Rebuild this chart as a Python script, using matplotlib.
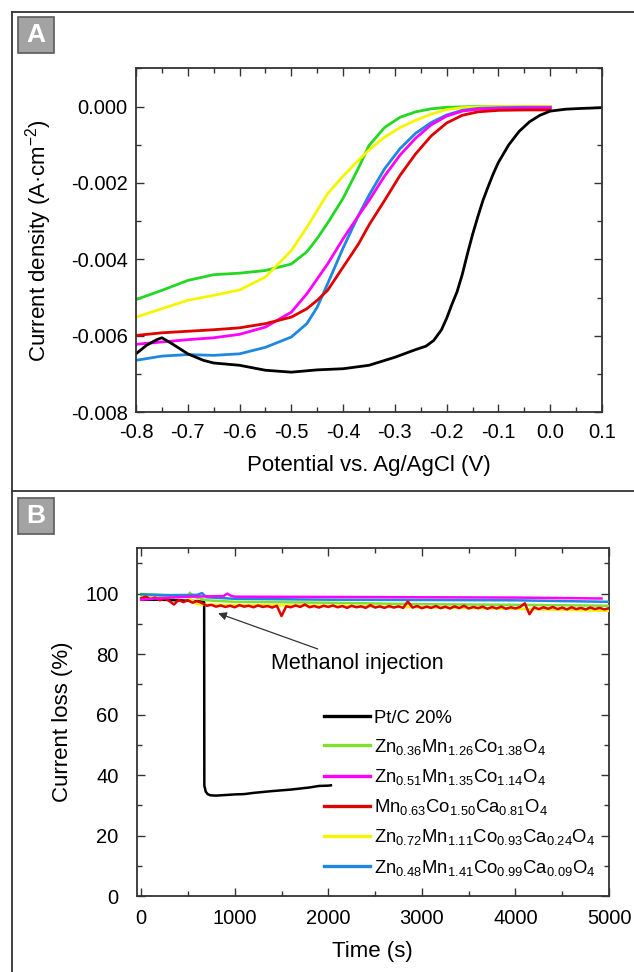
import numpy as np
import matplotlib
matplotlib.use('Agg')
import matplotlib.pyplot as plt
from matplotlib.lines import Line2D
from matplotlib.patches import Rectangle

plt.rcParams['font.family'] = ['Liberation Sans', 'DejaVu Sans']
plt.rcParams['mathtext.fontset'] = 'custom'
plt.rcParams['mathtext.rm'] = 'Liberation Sans'
plt.rcParams['mathtext.it'] = 'Liberation Sans:italic'
plt.rcParams['axes.unicode_minus'] = False

# ---- panel A: LSV curves (values in 1e-3 A/cm2)
pot = [-0.80, -0.75, -0.70, -0.65, -0.60, -0.55, -0.50, -0.47, -0.45, -0.43, -0.40, -0.37,
       -0.35, -0.32, -0.29, -0.26, -0.23, -0.20, -0.17, -0.14, -0.10, -0.05, 0.00]
green_a = [-5.05, -4.81, -4.55, -4.40, -4.36, -4.29, -4.12, -3.80, -3.45, -3.05, -2.40, -1.60,
           -1.02, -0.55, -0.28, -0.14, -0.06, -0.02, -0.01, 0.0, 0.0, 0.0, 0.0]
yellow_a = [-5.51, -5.29, -5.07, -4.94, -4.80, -4.46, -3.77, -3.16, -2.72, -2.28, -1.82, -1.40,
            -1.14, -0.80, -0.55, -0.36, -0.20, -0.08, -0.03, -0.01, 0.0, 0.0, 0.0]
blue_a = [-6.64, -6.53, -6.49, -6.51, -6.47, -6.30, -6.03, -5.68, -5.25, -4.64, -3.70, -2.84,
          -2.32, -1.63, -1.10, -0.70, -0.42, -0.22, -0.10, -0.05, -0.03, -0.02, -0.02]
magenta_a = [-6.22, -6.16, -6.10, -6.05, -5.96, -5.77, -5.38, -4.90, -4.51, -4.12, -3.46, -2.85,
             -2.46, -1.82, -1.27, -0.83, -0.48, -0.25, -0.12, -0.07, -0.05, -0.04, -0.03]
red_a = [-5.99, -5.92, -5.88, -5.84, -5.79, -5.68, -5.51, -5.29, -5.07, -4.81, -4.20, -3.59,
         -3.10, -2.46, -1.80, -1.24, -0.77, -0.43, -0.23, -0.14, -0.10, -0.09, -0.09]

pot_pt = [-0.80, -0.78, -0.76, -0.75, -0.73, -0.70, -0.67, -0.65, -0.60, -0.55, -0.50, -0.45,
          -0.40, -0.35, -0.30, -0.26, -0.24, -0.225, -0.21, -0.20, -0.19, -0.18, -0.17, -0.16,
          -0.15, -0.14, -0.13, -0.12, -0.11, -0.10, -0.08, -0.06, -0.04, -0.02, 0.00, 0.03,
          0.06, 0.10]
black_a = [-6.47, -6.25, -6.10, -6.05, -6.21, -6.47, -6.64, -6.71, -6.77, -6.90, -6.95, -6.89,
           -6.86, -6.77, -6.56, -6.36, -6.27, -6.12, -5.84, -5.54, -5.18, -4.85, -4.40, -3.86,
           -3.35, -2.89, -2.46, -2.10, -1.76, -1.46, -1.00, -0.65, -0.40, -0.23, -0.12, -0.07,
           -0.05, -0.03]

# ---- panel B: chronoamperometry, current retention (%)
t_pt = [0, 200, 400, 600, 673, 675, 690, 710, 740, 800, 900, 1000, 1100, 1200, 1400, 1600,
        1800, 1900, 2000, 2028]
black_b = [98.0, 98.0, 97.8, 97.5, 97.2, 36.5, 34.5, 33.7, 33.3, 33.2, 33.4, 33.6, 33.7, 34.1,
           34.7, 35.2, 35.9, 36.4, 36.5, 36.6]

t_green = [0, 300, 500, 520, 560, 700, 1000, 2000, 3000, 4000, 5000]
green_b = [99.5, 99.2, 99.0, 100.3, 99.0, 97.8, 97.3, 97.0, 96.5, 96.3, 96.0]
t_mag = [0, 200, 500, 880, 920, 960, 1000, 2000, 3000, 4000, 4920]
magenta_b = [98.0, 98.5, 99.0, 99.2, 100.0, 99.3, 99.0, 98.9, 98.8, 98.7, 98.4]
t_yel = [0, 200, 500, 600, 800, 2000, 3000, 4000, 5000]
yellow_b = [100.0, 99.5, 98.8, 96.5, 96.3, 96.0, 95.5, 95.0, 94.3]
t_blue = [0, 300, 600, 650, 700, 1000, 2000, 3000, 4000, 5000]
blue_b = [99.8, 99.5, 99.6, 100.2, 98.8, 98.3, 98.0, 97.9, 97.8, 97.3]
t_red = np.arange(0, 5001, 50)
red_b = [98.5, 99.0, 98.2, 98.7, 97.8, 98.4, 97.6, 96.4, 97.9, 97.2, 97.8, 97.0, 97.6, 96.9,
         96.0, 96.3, 95.7, 96.1, 95.6, 96.0, 95.5, 96.2, 95.7, 96.0, 95.5, 96.1, 95.6, 95.9,
         95.4, 96.0, 92.6, 95.8, 95.5, 96.1, 95.6, 96.4, 95.5, 95.9, 95.4, 96.0, 95.6, 96.1,
         95.5, 95.9, 95.3, 96.0, 95.5, 95.8, 95.3, 96.2, 95.4, 95.8, 95.3, 95.9, 95.4, 95.8,
         95.3, 97.4, 95.4, 95.9, 95.2, 95.7, 95.3, 95.9, 95.2, 95.7, 95.1, 95.8, 95.2, 96.0,
         95.1, 95.6, 95.2, 95.7, 95.0, 95.6, 95.1, 95.7, 95.0, 95.5, 95.1, 95.6, 96.8, 93.2,
         95.5, 94.9, 95.5, 95.0, 95.6, 94.9, 95.4, 94.8, 95.5, 94.9, 95.3, 94.8, 95.4, 94.9,
         95.3, 94.8, 95.2]

labels_b = ['Pt/C 20%',
            r'Zn$_{0.36}$Mn$_{1.26}$Co$_{1.38}$O$_{4}$',
            r'Zn$_{0.51}$Mn$_{1.35}$Co$_{1.14}$O$_{4}$',
            r'Mn$_{0.63}$Co$_{1.50}$Ca$_{0.81}$O$_{4}$',
            r'Zn$_{0.72}$Mn$_{1.11}$Co$_{0.93}$Ca$_{0.24}$O$_{4}$',
            r'Zn$_{0.48}$Mn$_{1.41}$Co$_{0.99}$Ca$_{0.09}$O$_{4}$']

c_black = 'black'
c_green_a = '#22d822'
c_green_b = '#80e030'
c_magenta = '#ff00ff'
c_red = '#e00000'
c_yellow = '#f5f500'
c_blue = '#1e88e0'

W, H = 634, 972
fig = plt.figure(figsize=(W / 100, H / 100), dpi=100)


def fx(px):
    return px / W


def fy(py):
    return 1 - py / H


def style_axes(ax, xpad, ypad):
    ax.tick_params(which='both', direction='in', top=True, right=True, labelsize=14.5,
                   color='#333333')
    ax.tick_params(which='major', length=6, width=1)
    ax.tick_params(which='minor', length=3.5, width=1)
    ax.tick_params(axis='x', pad=xpad)
    ax.tick_params(axis='y', pad=ypad)
    for s in ax.spines.values():
        s.set_linewidth(1.3)
        s.set_color('#333333')


# panel A
ax1 = fig.add_axes([fx(136), fy(412.3), fx(602 - 136), (412.3 - 68.3) / H])
lw = 2.0
s = 1e-3
ax1.plot(pot, np.array(green_a) * s, color=c_green_a, lw=lw)
ax1.plot(pot, np.array(yellow_a) * s, color=c_yellow, lw=lw)
ax1.plot(pot, np.array(blue_a) * s, color=c_blue, lw=lw)
ax1.plot(pot, np.array(magenta_a) * s, color=c_magenta, lw=lw)
ax1.plot(pot, np.array(red_a) * s, color=c_red, lw=lw)
ax1.plot(pot_pt, np.array(black_a) * s, color=c_black, lw=lw)
ax1.set_xlim(-0.8, 0.1)
ax1.set_ylim(-0.008, 0.001)
xt = np.arange(-0.8, 0.11, 0.1)
ax1.set_xticks(xt)
ax1.set_xticklabels(['%.1f' % v if abs(v) > 1e-9 else '0.0' for v in xt])
ax1.set_xticks(np.arange(-0.8, 0.11, 0.05), minor=True)
yt = np.arange(-0.008, 0.0001, 0.002)
ax1.set_yticks(yt)
ax1.set_yticklabels(['%.3f' % v if abs(v) > 1e-9 else '0.000' for v in yt])
ax1.set_yticks(np.arange(-0.008, 0.0011, 0.001), minor=True)
style_axes(ax1, 8, 6)
ax1.set_xlabel('Potential vs. Ag/AgCl (V)', fontsize=16, labelpad=9)
ax1.set_ylabel('Current density (A·cm$^{-2}$)', fontsize=16, labelpad=12)

# panel B
ax2 = fig.add_axes([fx(136.5), fy(896), fx(609 - 136.5), (896 - 548.3) / H])
lw2 = 1.8
ax2.plot(t_pt, black_b, color=c_black, lw=lw2, zorder=2)
ax2.plot(t_yel, yellow_b, color=c_yellow, lw=lw2, zorder=3)
ax2.plot(t_green, green_b, color=c_green_b, lw=lw2, zorder=3)
ax2.plot(t_blue, blue_b, color=c_blue, lw=lw2, zorder=4)
ax2.plot(t_red, red_b, color=c_red, lw=1.8, zorder=5)
ax2.plot(t_mag, magenta_b, color=c_magenta, lw=lw2, zorder=6)
ax2.set_xlim(-50, 5000)
ax2.set_ylim(0, 115)
ax2.set_xticks(np.arange(0, 5001, 1000))
ax2.set_xticks(np.arange(0, 5001, 500), minor=True)
ax2.set_yticks(np.arange(0, 101, 20))
ax2.set_yticks(np.arange(0, 111, 10), minor=True)
style_axes(ax2, 9, 13)
ax2.set_xlabel('Time (s)', fontsize=16, labelpad=10)
ax2.set_ylabel('Current loss (%)', fontsize=16, labelpad=9)

ax2.annotate('Methanol injection', xy=(823, 93.5), xytext=(1389, 77), fontsize=15.5,
             va='center', ha='left',
             arrowprops=dict(arrowstyle='-|>', color='#333333', lw=0.9,
                             shrinkA=2, shrinkB=0, mutation_scale=12))

handles = [Line2D([], [], color=c, lw=2.4) for c in
           [c_black, c_green_b, c_magenta, c_red, c_yellow, c_blue]]
ax2.legend(handles, labels_b, loc='upper left', bbox_to_anchor=(0.381, 0.557),
           frameon=False, fontsize=13.3, handlelength=2.5, handletextpad=0.2,
           labelspacing=0.55, borderaxespad=0)

# panel frames and letter tags
frame_kw = dict(color='#333333', lw=1.3, transform=fig.transFigure)
fig.add_artist(Line2D([fx(12), 1], [fy(12), fy(12)], **frame_kw))
fig.add_artist(Line2D([fx(12), fx(12)], [fy(12), 0], **frame_kw))
fig.add_artist(Line2D([fx(12), 1], [fy(491), fy(491)], **frame_kw))
for letter, top in [('A', 17), ('B', 498)]:
    fig.add_artist(Rectangle((fx(18), fy(top + 36)), fx(36), 36 / H, transform=fig.transFigure,
                             facecolor='#a3a3a3', edgecolor='#5a5a5a', lw=1.2))
    fig.text(fx(36), fy(top + 18), letter, color='white', fontsize=19, fontweight='bold',
             ha='center', va='center')

fig.savefig('out.png', dpi=100)
